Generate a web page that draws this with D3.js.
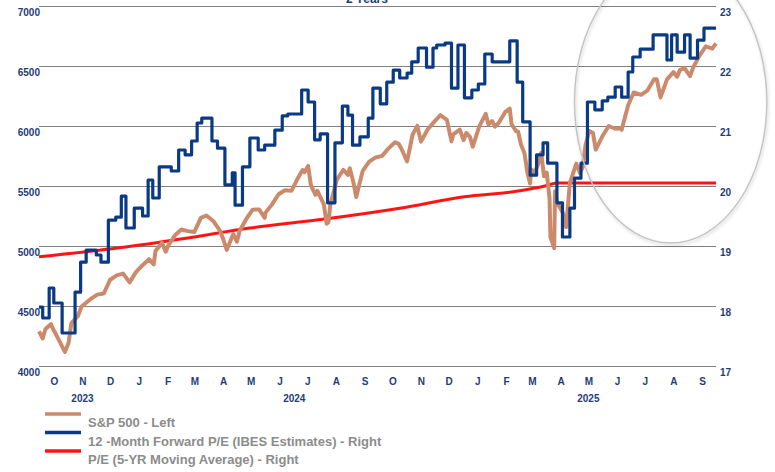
<!DOCTYPE html>
<html>
<head>
<meta charset="utf-8">
<script src="https://cdn.jsdelivr.net/npm/d3@7"></script>
<style>
  body { margin: 0; background: #fff; }
  .chart text { font-family: Arial, "Liberation Sans", sans-serif; }
</style>
</head>
<body>
<div class="chart"></div>
<script>
// DATA ------------------------------------

// S&P 500 closes (left axis)
const spxDates = [
  "2023-09-29","2023-10-03","2023-10-06","2023-10-12","2023-10-13","2023-10-20","2023-10-27","2023-10-31",
  "2023-11-03","2023-11-10","2023-11-14","2023-11-17","2023-11-24","2023-12-01","2023-12-08","2023-12-15",
  "2023-12-22","2023-12-29","2024-01-05","2024-01-12","2024-01-19","2024-01-26","2024-01-31","2024-02-02",
  "2024-02-09","2024-02-13","2024-02-16","2024-02-23","2024-03-01","2024-03-08","2024-03-15","2024-03-22",
  "2024-03-28","2024-04-05","2024-04-12","2024-04-15","2024-04-19","2024-04-26","2024-04-30","2024-05-03",
  "2024-05-10","2024-05-17","2024-05-24","2024-05-30","2024-05-31","2024-06-07","2024-06-14","2024-06-21",
  "2024-06-28","2024-07-05","2024-07-10","2024-07-12","2024-07-16","2024-07-19","2024-07-24","2024-07-26",
  "2024-08-02","2024-08-05","2024-08-07","2024-08-09","2024-08-16","2024-08-23","2024-08-28","2024-08-30",
  "2024-09-03","2024-09-06","2024-09-13","2024-09-20","2024-09-27","2024-10-04","2024-10-11","2024-10-18",
  "2024-10-22","2024-10-25","2024-10-31","2024-11-06","2024-11-11","2024-11-15","2024-11-22","2024-11-29",
  "2024-12-06","2024-12-13","2024-12-18","2024-12-20","2024-12-27","2024-12-31","2025-01-03","2025-01-07",
  "2025-01-10","2025-01-17","2025-01-24","2025-01-27","2025-01-31","2025-02-03","2025-02-07","2025-02-14",
  "2025-02-19","2025-02-21","2025-02-26","2025-02-28","2025-03-03","2025-03-07","2025-03-10","2025-03-13",
  "2025-03-14","2025-03-18","2025-03-21","2025-03-25","2025-03-28","2025-03-31","2025-04-03","2025-04-04",
  "2025-04-08","2025-04-09","2025-04-11","2025-04-17","2025-04-21","2025-04-25","2025-05-02","2025-05-06",
  "2025-05-09","2025-05-12","2025-05-16","2025-05-20","2025-05-23","2025-05-30","2025-06-06","2025-06-13",
  "2025-06-18","2025-06-20","2025-06-27","2025-07-03","2025-07-11","2025-07-18","2025-07-25","2025-07-28",
  "2025-08-01","2025-08-06","2025-08-08","2025-08-15","2025-08-19","2025-08-22","2025-08-27","2025-08-29",
  "2025-09-02","2025-09-05","2025-09-12","2025-09-19","2025-09-26","2025-09-30"
];
const spxValues = [
  4288,4229,4308,4349,4327,4224,4117,4194,
  4358,4415,4496,4514,4559,4595,4604,4719,
  4755,4770,4697,4784,4840,4891,4846,4959,
  5027,4953,5006,5089,5137,5124,5117,5234,
  5254,5204,5123,5061,4967,5100,5036,5128,
  5223,5303,5305,5235,5278,5347,5431,5465,
  5460,5567,5633,5615,5667,5505,5427,5459,
  5346,5186,5199,5344,5554,5634,5592,5648,
  5529,5408,5626,5703,5738,5751,5815,5864,
  5851,5808,5705,5929,6001,5870,5969,6032,
  6090,6051,5872,5930,5970,5882,5942,5909,
  5827,5997,6101,6012,6041,5994,6026,6115,
  6144,6013,5956,5955,5850,5770,5614,5521,
  5639,5615,5668,5777,5581,5612,5397,5074,
  4982,5457,5363,5283,5158,5525,5686,5607,
  5660,5844,5958,5941,5803,5912,6000,5977,
  5981,5968,6173,6279,6260,6297,6389,6389,
  6238,6345,6389,6449,6411,6467,6481,6460,
  6415,6482,6584,6664,6644,6688
];

// 12-month forward P/E, step changes (right axis)
const peDates = [
  "2023-09-29","2023-10-03","2023-10-10","2023-10-15","2023-10-24","2023-11-07","2023-11-13","2023-11-19",
  "2023-11-30","2023-12-05","2023-12-13","2023-12-21","2023-12-27","2024-01-01","2024-01-10","2024-01-19",
  "2024-01-25","2024-01-30","2024-02-06","2024-02-19","2024-02-27","2024-03-05","2024-03-12","2024-03-18",
  "2024-03-23","2024-04-03","2024-04-09","2024-04-17","2024-04-25","2024-04-28","2024-05-06","2024-05-14",
  "2024-05-23","2024-05-30","2024-06-10","2024-06-18","2024-06-24","2024-07-09","2024-07-16","2024-07-23",
  "2024-07-29","2024-08-06","2024-08-14","2024-08-22","2024-08-28","2024-09-02","2024-09-10","2024-09-19",
  "2024-09-24","2024-10-02","2024-10-09","2024-10-16","2024-10-23","2024-10-31","2024-11-05","2024-11-12",
  "2024-11-21","2024-11-28","2024-12-02","2024-12-11","2024-12-18","2024-12-25","2025-01-01","2025-01-09",
  "2025-01-16","2025-01-23","2025-01-31","2025-02-19","2025-02-27","2025-03-05","2025-03-13","2025-03-20",
  "2025-03-27","2025-04-01","2025-04-11","2025-04-17","2025-04-25","2025-04-30","2025-05-07","2025-05-14",
  "2025-05-22","2025-05-30","2025-06-05","2025-06-13","2025-06-20","2025-06-27","2025-07-02","2025-07-10",
  "2025-07-24","2025-08-08","2025-08-13","2025-08-19","2025-08-27","2025-09-02","2025-09-10","2025-09-17",
  "2025-09-30"
];
const peValues = [
  17.98,17.8,18.3,18.05,17.55,18.23,18.73,18.93,
  18.85,18.73,19.43,19.48,19.83,19.3,19.63,19.5,
  20.1,19.8,20.32,20.25,20.6,20.52,20.75,21.05,
  21.13,20.75,20.63,20.02,20.22,19.68,20.32,20.8,
  20.6,20.68,20.93,21.17,21.2,21.6,21.4,20.77,
  20.87,19.72,20.72,21.33,21.18,20.68,20.82,21.13,
  21.63,21.37,21.73,21.93,21.8,21.88,22.07,22.3,
  21.98,22.3,22.35,22.38,21.63,22.35,21.47,21.6,
  21.7,22.2,22.07,22.42,21.73,21.07,20.18,20.52,
  20.72,20.38,19.72,19.15,19.63,20.13,20.38,21.4,
  21.27,21.42,21.48,21.65,21.48,21.9,22.15,22.28,
  22.52,22.1,22.52,22.23,22.52,22.13,22.43,22.63,
  22.63
];

// P/E 5-year moving average (right axis)
const maDates = ["2023-09-29","2023-12-25","2024-03-06","2024-05-14","2024-08-03","2024-10-23",
  "2025-01-01","2025-03-02","2025-03-29","2025-04-11","2025-09-30"];
const maValues = [18.82,18.97,19.13,19.3,19.45,19.63,19.82,19.92,20.0,20.05,20.05];

const leftTicks = [4000, 4500, 5000, 5500, 6000, 6500, 7000];
const rightTicks = [17, 18, 19, 20, 21, 22, 23];
const yearLabels = ["2023", "2024", "2025"];
const yearDates = ["2023-11-15", "2024-07-01", "2025-05-15"];
const seriesNames = [
  "S&P 500 - Left",
  "12 -Month Forward P/E (IBES Estimates) - Right",
  "P/E (5-YR Moving Average) - Right"
];
const seriesColors = ["#cc8a6c", "#0b3a84", "#ff1414"];

// CHART INIT ------------------------------

const totalWidth = 775;
const totalHeight = 472;
const plot = { left: 39, right: 716, top: 6, bottom: 366 };
const axisColor = "#1f3c78";
const parse = d3.timeParse("%Y-%m-%d");

const svg = d3
  .select(".chart")
  .append("svg")
  .attr("width", totalWidth)
  .attr("height", totalHeight);

const xScale = d3
  .scaleTime()
  .domain([parse("2023-09-29"), parse("2025-09-30")])
  .range([plot.left, plot.right]);
const yLeft = d3.scaleLinear().domain([4000, 7000]).range([plot.bottom, plot.top]);
const yRight = d3.scaleLinear().domain([17, 23]).range([plot.bottom, plot.top]);

// title (cut off by the top edge, as in the source)
svg
  .append("text")
  .attr("x", 367)
  .attr("y", 3)
  .attr("text-anchor", "middle")
  .attr("font-size", 12)
  .attr("font-weight", "bold")
  .attr("fill", axisColor)
  .text("2 Years");

// gridlines
svg
  .append("g")
  .attr("transform", `translate(${plot.left},0)`)
  .call(d3.axisLeft(yLeft).tickValues(leftTicks).tickSize(-(plot.right - plot.left)).tickFormat(""))
  .call((g) => g.select(".domain").remove())
  .call((g) => g.selectAll("line").attr("stroke", "#808080").attr("stroke-width", 1));

function styleLabels(g) {
  g.select(".domain").remove();
  g.selectAll("text")
    .attr("fill", axisColor)
    .attr("font-size", 10)
    .attr("font-weight", "bold")
    .attr("font-family", "Arial, 'Liberation Sans', sans-serif");
}

// left axis labels
svg
  .append("g")
  .attr("transform", `translate(${plot.left + 1},0)`)
  .call(d3.axisLeft(yLeft).tickValues(leftTicks).tickSize(0).tickPadding(0).tickFormat(d3.format("d")))
  .call(styleLabels)
  .call((g) => g.selectAll("text").attr("dy", "0.95em"));

// right axis labels
svg
  .append("g")
  .attr("transform", `translate(${plot.right + 4},0)`)
  .call(d3.axisRight(yRight).tickValues(rightTicks).tickSize(0).tickPadding(0).tickFormat(d3.format("d")))
  .call(styleLabels)
  .call((g) => g.selectAll("text").attr("dy", "0.95em"));

// month axis
const monthTicks = d3.timeMonth
  .range(parse("2023-10-01"), parse("2025-10-01"))
  .map((d) => d3.timeDay.offset(d, 14));

svg
  .append("g")
  .attr("transform", `translate(0,${plot.bottom})`)
  .call(
    d3.axisBottom(xScale)
      .tickValues(monthTicks)
      .tickSize(0)
      .tickPadding(12)
      .tickFormat((d) => d3.timeFormat("%b")(d).charAt(0))
  )
  .call(styleLabels);

svg
  .selectAll(".year")
  .data(yearLabels)
  .enter()
  .append("text")
  .attr("class", "year")
  .attr("x", (d, i) => xScale(parse(yearDates[i])))
  .attr("y", 402)
  .attr("text-anchor", "middle")
  .attr("font-size", 10)
  .attr("font-weight", "bold")
  .attr("fill", axisColor)
  .text((d) => d);

// LINES -----------------------------------

const spx = spxDates.map((d, i) => ({ date: parse(d), value: spxValues[i] }));
const pe = peDates.map((d, i) => ({ date: parse(d), value: peValues[i] }));
const ma = maDates.map((d, i) => ({ date: parse(d), value: maValues[i] }));

const lineMa = d3.line().x((d) => xScale(d.date)).y((d) => yRight(d.value)).curve(d3.curveMonotoneX);
const lineSpx = d3.line().x((d) => xScale(d.date)).y((d) => yLeft(d.value));
const linePe = d3.line().x((d) => xScale(d.date)).y((d) => yRight(d.value)).curve(d3.curveStepAfter);

svg.append("path").datum(ma).attr("d", lineMa)
  .attr("fill", "none").attr("stroke", seriesColors[2]).attr("stroke-width", 3);

svg.append("path").datum(spx).attr("d", lineSpx)
  .attr("fill", "none").attr("stroke", seriesColors[0]).attr("stroke-width", 4)
  .attr("stroke-linejoin", "round");

svg.append("path").datum(pe).attr("d", linePe)
  .attr("fill", "none").attr("stroke", seriesColors[1]).attr("stroke-width", 3.2)
  .attr("stroke-linejoin", "round");

// highlight ellipse around the recent months
const defs = svg.append("defs");
const shadow = defs.append("filter").attr("id", "shadow").attr("x", "-10%").attr("y", "-10%")
  .attr("width", "120%").attr("height", "120%");
shadow.append("feDropShadow").attr("dx", 1).attr("dy", 2).attr("stdDeviation", 1.5)
  .attr("flood-color", "#000").attr("flood-opacity", 0.18);

const ellCenter = parse("2025-08-12");
svg
  .append("ellipse")
  .attr("cx", xScale(ellCenter))
  .attr("cy", yRight(21.4))
  .attr("rx", xScale(d3.timeDay.offset(ellCenter, 104)) - xScale(ellCenter))
  .attr("ry", yRight(21.4) - yRight(23.75))
  .attr("fill", "none")
  .attr("stroke", "#c4c4c4")
  .attr("stroke-width", 1.5)
  .attr("filter", "url(#shadow)");

// LEGEND ----------------------------------

const legend = svg
  .selectAll(".legend")
  .data(seriesNames)
  .enter()
  .append("g")
  .attr("class", "legend")
  .attr("transform", (d, i) => `translate(45,${414 + i * 18.5})`);

legend.append("line")
  .attr("x1", 0).attr("x2", 36)
  .attr("stroke", (d, i) => seriesColors[i])
  .attr("stroke-width", 3.5);

legend.append("text")
  .attr("x", 43)
  .attr("y", 13)
  .attr("font-size", 13)
  .attr("font-weight", "bold")
  .attr("fill", "#8c8c8c")
  .text((d) => d);
</script>
</body>
</html>
